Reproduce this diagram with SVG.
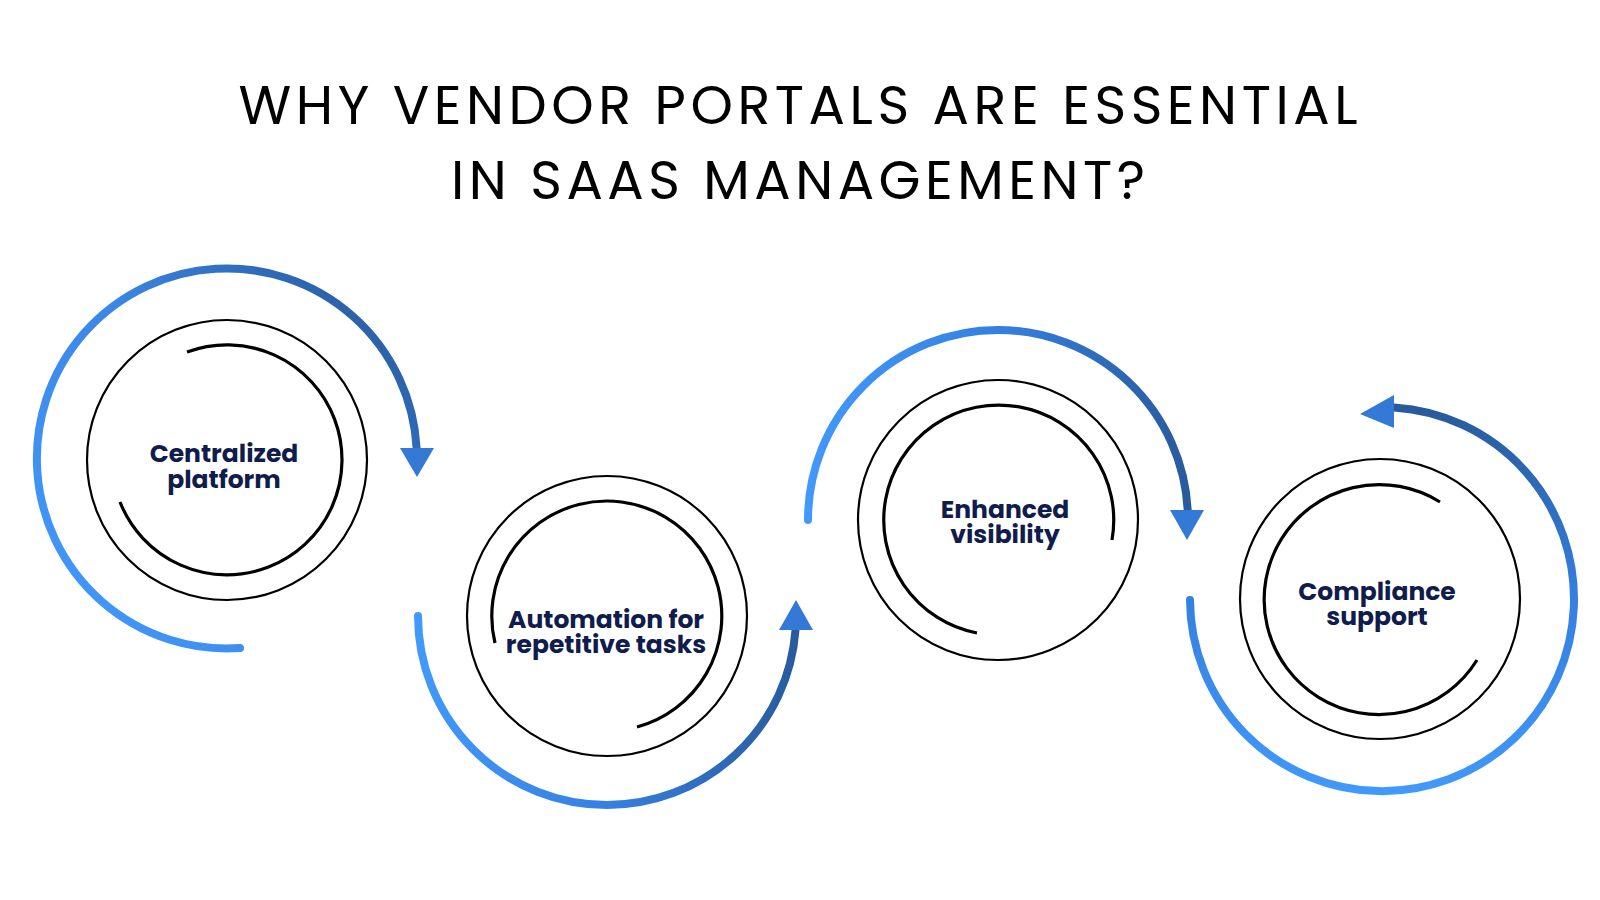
<svg xmlns="http://www.w3.org/2000/svg" width="1600" height="900" viewBox="0 0 1600 900">
<style>
.title{font-family:"Poppins","Lato","Open Sans",sans-serif;font-size:54px;font-weight:400;fill:#000;text-anchor:middle;letter-spacing:6px}
.lbl{font-family:"Poppins","Open Sans","Lato",sans-serif;font-size:25px;font-weight:700;fill:#101d4c;text-anchor:middle}
.ring{fill:none;stroke:#000;stroke-width:2.2}
.inner{fill:none;stroke:#000;stroke-width:3.2;stroke-linecap:butt}
.flow{fill:none;stroke-width:8;stroke-linecap:round}
.head{fill:#3479d6}
</style>
<defs>
<linearGradient id="g1" gradientUnits="userSpaceOnUse" x1="60" y1="640" x2="420" y2="330"><stop offset="0" stop-color="#4199fa"/><stop offset="0.55" stop-color="#3b86e6"/><stop offset="1" stop-color="#285a9c"/></linearGradient>
<linearGradient id="g2" gradientUnits="userSpaceOnUse" x1="418" y1="0" x2="800" y2="0"><stop offset="0" stop-color="#4199fa"/><stop offset="0.5" stop-color="#3580e0"/><stop offset="1" stop-color="#285a9c"/></linearGradient>
<linearGradient id="g3" gradientUnits="userSpaceOnUse" x1="808" y1="0" x2="1190" y2="0"><stop offset="0" stop-color="#4199fa"/><stop offset="0.5" stop-color="#3580e0"/><stop offset="1" stop-color="#285a9c"/></linearGradient>
<linearGradient id="g4" gradientUnits="userSpaceOnUse" x1="0" y1="795" x2="0" y2="405"><stop offset="0" stop-color="#4199fa"/><stop offset="0.5" stop-color="#3580e0"/><stop offset="1" stop-color="#285a9c"/></linearGradient>
</defs>
<rect width="1600" height="900" fill="#fff"/>
<g id="title">
<text class="title" x="801" y="124" textLength="1125" lengthAdjust="spacing">WHY VENDOR PORTALS ARE ESSENTIAL</text>
<text class="title" x="801" y="199" textLength="700" lengthAdjust="spacing">IN SAAS MANAGEMENT?</text>
</g>
<g id="connectors">
<path class="flow" stroke="url(#g1)" d="M240,648 A190,190 0 1 1 416.6,448"/>
<polygon class="head" points="400,448 434,448 417,477"/>
<path class="flow" stroke="url(#g2)" d="M418,616 A189,189 0 0 0 607,805 A189,189 0 0 0 795.5,630"/>
<polygon class="head" points="779,630 813,630 796,600"/>
<path class="flow" stroke="url(#g3)" d="M808,520 A190,190 0 0 1 998,330 A190,190 0 0 1 1187.7,510"/>
<polygon class="head" points="1170,510 1204,510 1187,540"/>
<path class="flow" stroke="url(#g4)" d="M1190,600 A192,192 0 1 0 1394,407.5"/>
<polygon class="head" points="1394,395 1394,428 1360,414"/>
</g>
<g id="node1">
<circle class="ring" cx="227" cy="460" r="140"/>
<path class="inner" d="M187,352 A115,115 0 1 1 120,502"/>
<text class="lbl" x="224" y="462">Centralized</text>
<text class="lbl" x="224" y="488">platform</text>
</g>
<g id="node2">
<circle class="ring" cx="607" cy="616" r="140"/>
<path class="inner" d="M495,643 A115,115 0 1 1 637,727"/>
<text class="lbl" x="606" y="628">Automation for</text>
<text class="lbl" x="606" y="653">repetitive tasks</text>
</g>
<g id="node3">
<circle class="ring" cx="998" cy="520" r="140"/>
<path class="inner" d="M1112,540 A115,115 0 1 0 977,633"/>
<text class="lbl" x="1005" y="518">Enhanced</text>
<text class="lbl" x="1005" y="543">visibility</text>
</g>
<g id="node4">
<circle class="ring" cx="1380" cy="599" r="140"/>
<path class="inner" d="M1440,502 A115,115 0 1 0 1477,660"/>
<text class="lbl" x="1377" y="600">Compliance</text>
<text class="lbl" x="1377" y="625">support</text>
</g>
</svg>
